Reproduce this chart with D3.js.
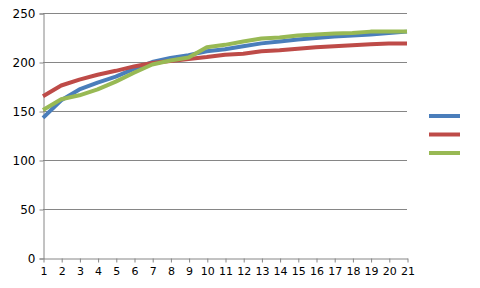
<!DOCTYPE html>
<html>
<head>
<meta charset="utf-8">
<script src="https://cdn.jsdelivr.net/npm/d3@7"></script>
<style>
  body { margin: 0; background: #fff; }
  text { font-family: "DejaVu Sans", sans-serif; fill: #000; }
</style>
</head>
<body>
<script>
// categories 1..21
const categories = d3.range(1, 22).map(String);

// the three series (no names in the legend)
const seriesBlue = [143, 161, 172, 179, 185, 193, 200, 204, 207, 211, 213, 216, 219, 221, 223, 224.5, 226, 227, 228, 229.5, 231];
const seriesRed = [165, 176, 182, 187, 191, 195.5, 199, 201, 203, 205, 207.5, 208.5, 211, 212, 213.5, 215, 216, 217, 218, 219, 219];
const seriesGreen = [151, 162, 166, 172, 180, 189, 197.5, 201.5, 204.5, 215, 217.5, 221, 224, 225, 227, 228, 229, 229.5, 231, 231, 231];

const yTicks = [0, 50, 100, 150, 200, 250];

const series = [
  { values: seriesBlue, color: "#4a7ebb" },
  { values: seriesRed, color: "#be4b48" },
  { values: seriesGreen, color: "#98b954" }
];

const width = 480, height = 288;
const margin = { left: 43, right: 73, top: 13, bottom: 30 };

const svg = d3.select("body").append("svg")
  .attr("width", width)
  .attr("height", height);

const x = d3.scalePoint()
  .domain(categories)
  .range([margin.left, width - margin.right]);

const y = d3.scaleLinear()
  .domain([0, 250])
  .range([height - margin.bottom, margin.top]);

// gridlines
svg.append("g")
  .selectAll("line")
  .data(yTicks.filter(d => d > 0))
  .join("line")
  .attr("x1", margin.left)
  .attr("x2", width - margin.right)
  .attr("y1", d => y(d) + 0.5)
  .attr("y2", d => y(d) + 0.5)
  .attr("stroke", "#868686");

// y axis
const yAxis = svg.append("g")
  .attr("transform", `translate(${margin.left + 0.5},0.5)`)
  .call(d3.axisLeft(y).tickValues(yTicks).tickSize(4).tickPadding(4));
yAxis.select(".domain").attr("stroke", "#868686");
yAxis.selectAll(".tick line").attr("stroke", "#868686");
yAxis.selectAll("text").style("font-size", "12px");

// x axis
const xAxis = svg.append("g")
  .attr("transform", `translate(0.5,${y(0) + 0.5})`)
  .call(d3.axisBottom(x).tickSize(4).tickSizeOuter(0).tickPadding(5));
xAxis.select(".domain").attr("stroke", "#868686");
xAxis.selectAll(".tick line").attr("stroke", "#868686");
xAxis.selectAll("text").style("font-size", "11px");

// lines
const line = d3.line()
  .x((d, i) => x(categories[i]))
  .y(d => y(d));

svg.append("g")
  .selectAll("path")
  .data(series)
  .join("path")
  .attr("d", d => line(d.values))
  .attr("fill", "none")
  .attr("stroke", d => d.color)
  .attr("stroke-width", 4)
  .attr("stroke-linejoin", "round");

// legend: colour swatches only
svg.append("g")
  .selectAll("line")
  .data(series)
  .join("line")
  .attr("x1", 429)
  .attr("x2", 460)
  .attr("y1", (d, i) => 116 + i * 18.5)
  .attr("y2", (d, i) => 116 + i * 18.5)
  .attr("stroke", d => d.color)
  .attr("stroke-width", 4);
</script>
</body>
</html>
